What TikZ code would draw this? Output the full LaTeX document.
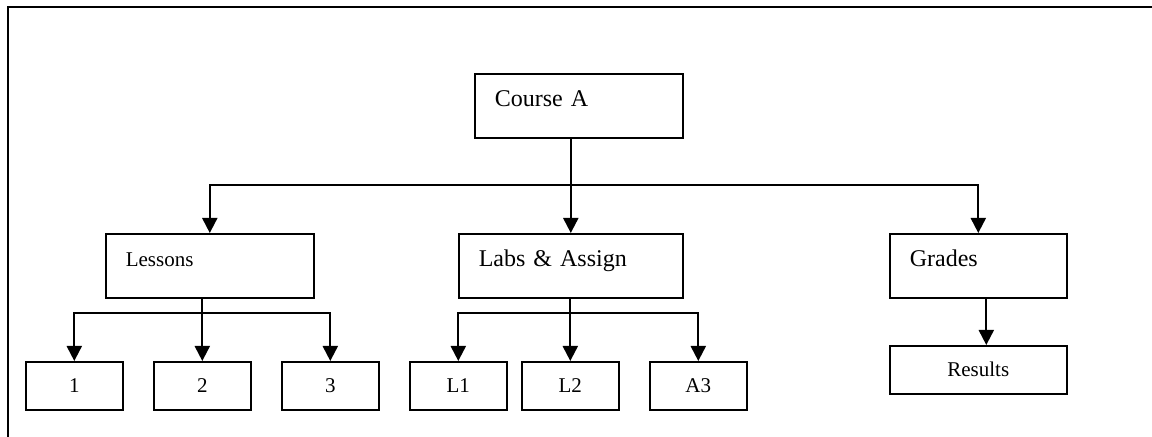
\documentclass[tikz,border=0pt]{standalone}
\usepackage{fontspec}
\setmainfont{Liberation Serif}
\usetikzlibrary{arrows.meta}

\begin{document}
\begin{tikzpicture}[x=0.5pt, y=-0.5pt, >={Triangle[length=7.5pt,width=7.5pt]},
    box/.style={draw, line width=0.8pt, anchor=north west, inner sep=0pt},
    topbox/.style={box, align=left, inner xsep=10pt, text width=#1, text height=16.5pt, text depth=15.5pt, font=\fontsize{12}{14}\selectfont},
    leaf/.style={box, minimum width=48.5pt, minimum height=24pt, font=\fontsize{10.5}{12}\selectfont},
    arr/.style={->, line width=1pt}]
    \useasboundingbox (0,0) rectangle (1152,437);
    \draw[line width=0.6pt] (8,437) |- (1152,7);
    \node[topbox=84pt] (course) at (474,73) {Course A};
    \node[topbox=84pt, font=\fontsize{10.5}{12}\selectfont] (lessons) at (105,233) {Lessons};
    \node[topbox=92pt] (labs) at (458,233) {Labs \& Assign};
    \node[topbox=68.5pt] (grades) at (889,233) {Grades};
    \node[leaf] (c1) at (25,361) {1};
    \node[leaf] (c2) at (153,361) {2};
    \node[leaf] (c3) at (281,361) {3};
    \node[leaf] (l1) at (409,361) {L1};
    \node[leaf] (l2) at (521,361) {L2};
    \node[leaf] (a3) at (649,361) {A3};
    \node[leaf, minimum width=88.5pt] (results) at (889,345) {Results};
    \coordinate (bus) at (570,185);
    \coordinate (lbus) at (202,313);
    \coordinate (abus) at (570,313);
    \draw[arr] (course.south -| labs.north) -- (labs.north);
    \draw[arr] (bus) -| (lessons.north);
    \draw[arr] (bus) -| (grades.north);
    \draw[arr] (lessons.south -| c2.north) -- (c2.north);
    \draw[arr] (lbus) -| (c1.north);
    \draw[arr] (lbus) -| (c3.north);
    \draw[arr] (labs.south -| l2.north) -- (l2.north);
    \draw[arr] (abus) -| (l1.north);
    \draw[arr] (abus) -| (a3.north);
    \draw[arr] ([xshift=4pt]grades.south) -- ([xshift=4pt]results.north);
\end{tikzpicture}
\end{document}
